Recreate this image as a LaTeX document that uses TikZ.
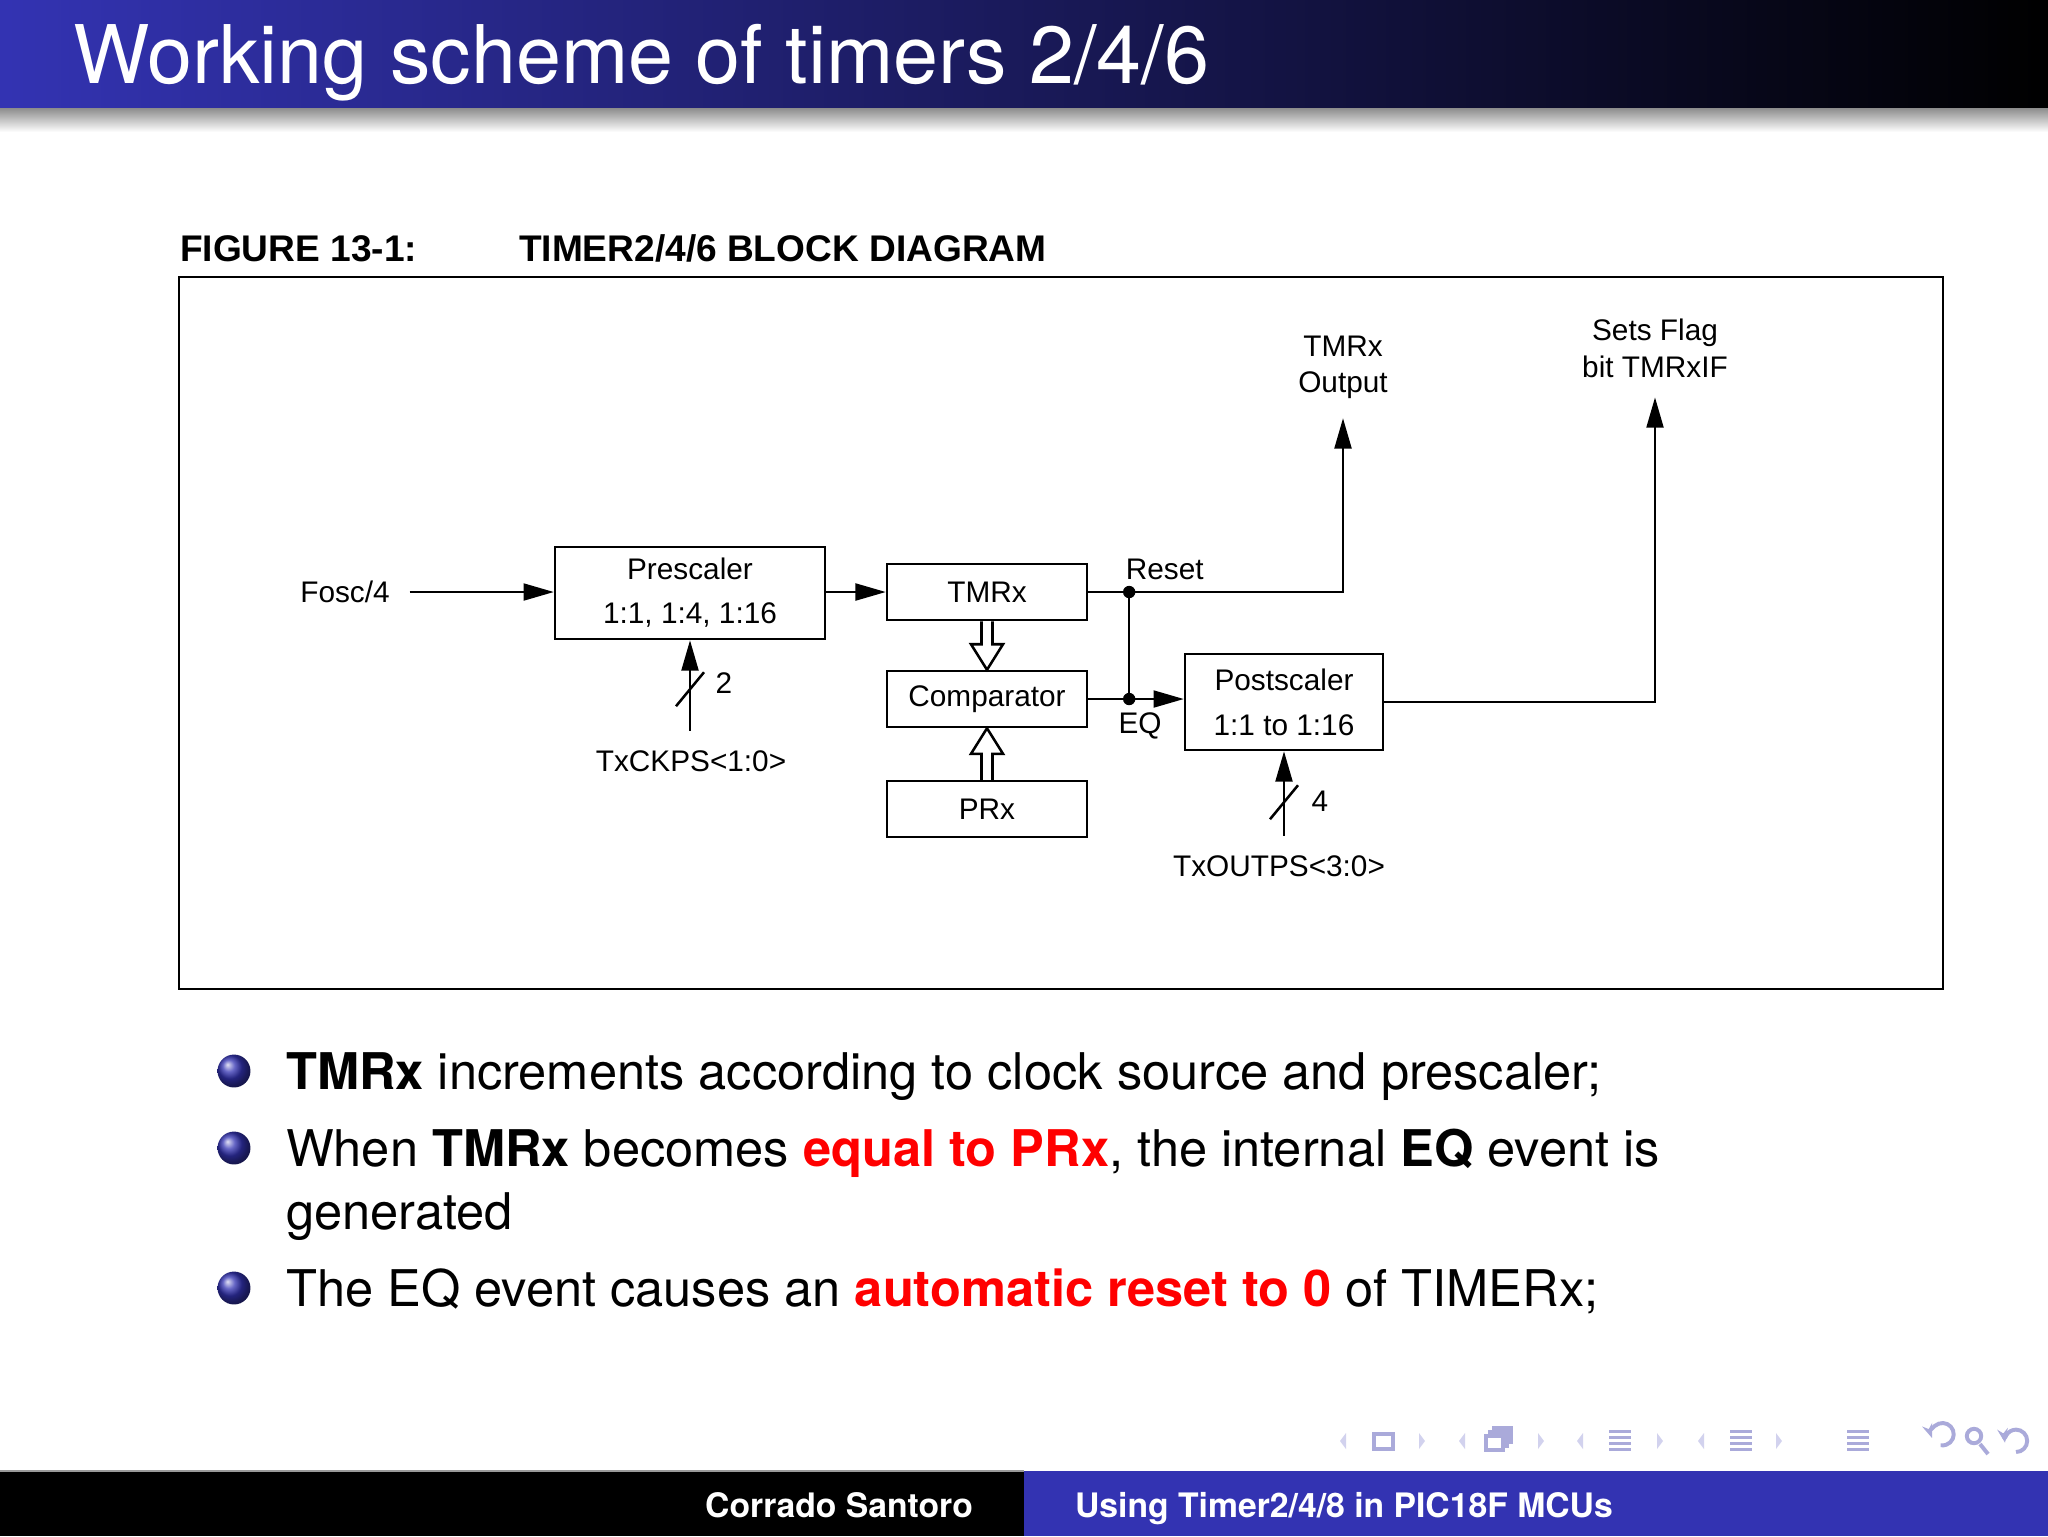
\documentclass[tikz,border=0pt]{standalone}
\usepackage{fontspec}
\setmainfont{TeX Gyre Heros}
\newfontfamily\figfont{Liberation Sans}
\usetikzlibrary{arrows.meta, positioning, calc}
\definecolor{bmBlue}{rgb}{0.2,0.2,0.7}
\definecolor{bmRed}{HTML}{FF0000}
\definecolor{navLight}{HTML}{D2D2EE}
\definecolor{navDark}{HTML}{AAAADA}
\tikzset{
  sig/.style={-{Triangle[length=5.4pt,width=3pt]}, line width=0.45pt},
  wire/.style={line width=0.45pt},
  blk/.style={rectangle, draw, line width=0.45pt, align=center, inner sep=0pt,
              font=\figfont\fontsize{5.3}{6.4}\selectfont},
  lbl/.style={align=center, font=\figfont\fontsize{5.3}{6.4}\selectfont},
  hollow/.style={draw, fill=white, line width=0.45pt},
  jdot/.style={circle, fill, inner sep=0pt, minimum size=2.2pt},
  body/.style={anchor=base west, inner sep=0pt, font=\fontsize{9}{11}\selectfont},
  bul/.style={circle, shading=ball, ball color=bmBlue, minimum size=0.206cm, inner sep=0pt},
  foot/.style={inner sep=0pt, text=white, font=\fontsize{6}{7}\selectfont\bfseries},
}
\begin{document}
\begin{tikzpicture}[x=0.00625cm, y=-0.00625cm]
    \useasboundingbox (0,0) rectangle (2048,1536);
    \fill[white] (0,0) rectangle (2048,1536);

    % title bar
    \shade[left color=bmBlue, right color=black] (0,0) rectangle (2048,108);
    \shade[top color=black!45, bottom color=white] (0,108) rectangle (2048,132);
    \node[anchor=base west, inner sep=0pt, text=white, font=\fontsize{14.4}{17}\selectfont]
         (title) at (72,83) {Working scheme of timers 2/4/6};

    % figure caption and frame
    \node[anchor=base west, inner sep=0pt, font=\figfont\fontsize{6.6}{8}\selectfont\bfseries]
         (fignum) at (179,261) {FIGURE 13-1:};
    \node[anchor=base west, inner sep=0pt, font=\figfont\fontsize{6.6}{8}\selectfont\bfseries]
         (figttl) at (518,261) {TIMER2/4/6 BLOCK DIAGRAM};
    \draw[wire] (179,277) rectangle (1943,989);

    % blocks
    \node[blk, minimum width=1.6875cm, minimum height=0.575cm] (pre) at (690,593)
         {Prescaler\\[1.4pt]1:1, 1:4, 1:16};
    \node[blk, minimum width=1.25cm, minimum height=0.35cm] (tmr) at (987,592) {TMRx};
    \node[blk, minimum width=1.25cm, minimum height=0.35cm] (cmp) at (987,699) {Comparator};
    \node[blk, minimum width=1.25cm, minimum height=0.35cm] (prx) at (987,809) {PRx};
    \node[blk, minimum width=1.2375cm, minimum height=0.6cm] (psc) at (1284,702)
         {Postscaler\\[1.6pt]1:1 to 1:16};

    % labels
    \node[lbl] (fosc) at (345,592) {Fosc/4};
    \node[lbl] (tout) at (1343,367) {TMRx\\Output};
    \node[lbl] (flag) at (1655,348) {Sets Flag\\[0.2pt]bit TMRxIF};
    \node[lbl, anchor=west] (rstl) at (1106,569) {Reset};
    \node[lbl] (eql) at (1140,726) {EQ};
    \node[lbl] (ckps) at (691,761) {TxCKPS<1:0>};
    \node[lbl] (outps) at (1279,866) {TxOUTPS<3:0>};
    \node[lbl] (two) at (724,683) {2};
    \node[lbl] (four) at (1320,801) {4};

    % signal flow
    \draw[sig] (fosc.east) -- (fosc.east -| pre.west);
    \draw[sig] (pre.east |- tmr.west) -- (tmr.west);
    \coordinate (rst) at ($(tmr.east)+(41,0)$);
    \coordinate (eq) at (rst |- cmp.east);
    \draw[wire] (tmr.east) -- (rst);
    \draw[sig] (rst) -| (tout.south);
    \draw[wire] (rst) -- (eq);
    \draw[sig] (cmp.east) -- (cmp.east -| psc.west);
    \draw[sig] (psc.east) -| (flag.south);
    \node[jdot] (rstdot) at (rst) {};
    \node[jdot] (eqdot) at (eq) {};

    % control buses
    \draw[sig] (pre.south |- ckps.north) -- (pre.south);
    \draw[wire] ($(pre.south)+(-14,66)$) -- ++(28,-34);
    \draw[sig] (psc.south |- outps.north) -- (psc.south);
    \draw[wire] ($(psc.south)+(-14,68)$) -- ++(28,-34);

    % hollow data arrows
    \draw[hollow] ($(tmr.south)+(-5.5,0)$) -- ++(0,23) -- ++(-10.5,0) -- (cmp.north)
         -- ($(tmr.south)+(16,23)$) -- ++(-10.5,0) -- ++(0,-23);
    \draw[hollow] ($(prx.north)+(-5.5,0)$) -- ++(0,-26) -- ++(-10.5,0) -- (cmp.south)
         -- ($(prx.north)+(16,-26)$) -- ++(-10.5,0) -- ++(0,26);

    % bullet list
    \node[bul] (b1) at (234,1071) {};
    \node[bul] (b2) at (234,1148) {};
    \node[bul] (b3) at (234,1288) {};
    \node[body] (it1) at (285,1089) {\textbf{TMRx} increments according to clock source and prescaler;};
    \node[body] (it2) at (285,1166) {When \textbf{TMRx} becomes \textcolor{bmRed}{\textbf{equal to PRx}}, the internal \textbf{EQ} event is};
    \node[body] (it2b) at (285,1229) {generated};
    \node[body] (it3) at (285,1306) {The EQ event causes an \textcolor{bmRed}{\textbf{automatic reset to 0}} of TIMERx;};

    % navigation symbols
    \foreach \x in {1343,1462,1580,1701}
      \fill[navLight] (\x+3,1433) -- (\x-3,1441) -- (\x+3,1449) -- cycle;
    \foreach \x in {1422,1541,1660,1779}
      \fill[navLight] (\x-3,1433) -- (\x+3,1441) -- (\x-3,1449) -- cycle;
    \draw[navDark, line width=0.6pt] (1374,1434) rectangle (1393,1449);
    \foreach \d in {0,1,2}
      \draw[navDark, fill=white, line width=0.6pt] (1494-4*\d,1428+4*\d) rectangle ++(17,14);
    \foreach \x in {1620,1741,1858}
      \foreach \y in {1430,1436,1442,1448}
        \fill[navDark] (\x-11,\y) rectangle ++(22,3);
    \draw[navDark, line width=0.7pt, {Stealth[length=2.5pt]}-] (1932,1438) arc[start angle=200, end angle=-100, radius=0.07cm];
    \draw[navDark, line width=0.7pt] (1974,1436) circle (0.045cm) (1980,1444) -- (1988,1454);
    \draw[navDark, line width=0.7pt, -{Stealth[length=2.5pt]}] (2016,1452) arc[start angle=-90, end angle=190, radius=0.07cm];

    % footline
    \fill[black] (0,1471) rectangle (1024,1536);
    \fill[bmBlue] (1024,1471) rectangle (2048,1536);
    \draw[black!40, line width=0.3pt] (0,1471) -- (1024,1471);
    \node[foot, anchor=base east] (auth) at (974,1517) {Corrado Santoro};
    \node[foot, anchor=base west] (talk) at (1074,1517) {Using Timer2/4/8 in PIC18F MCUs};
\end{tikzpicture}
\end{document}
